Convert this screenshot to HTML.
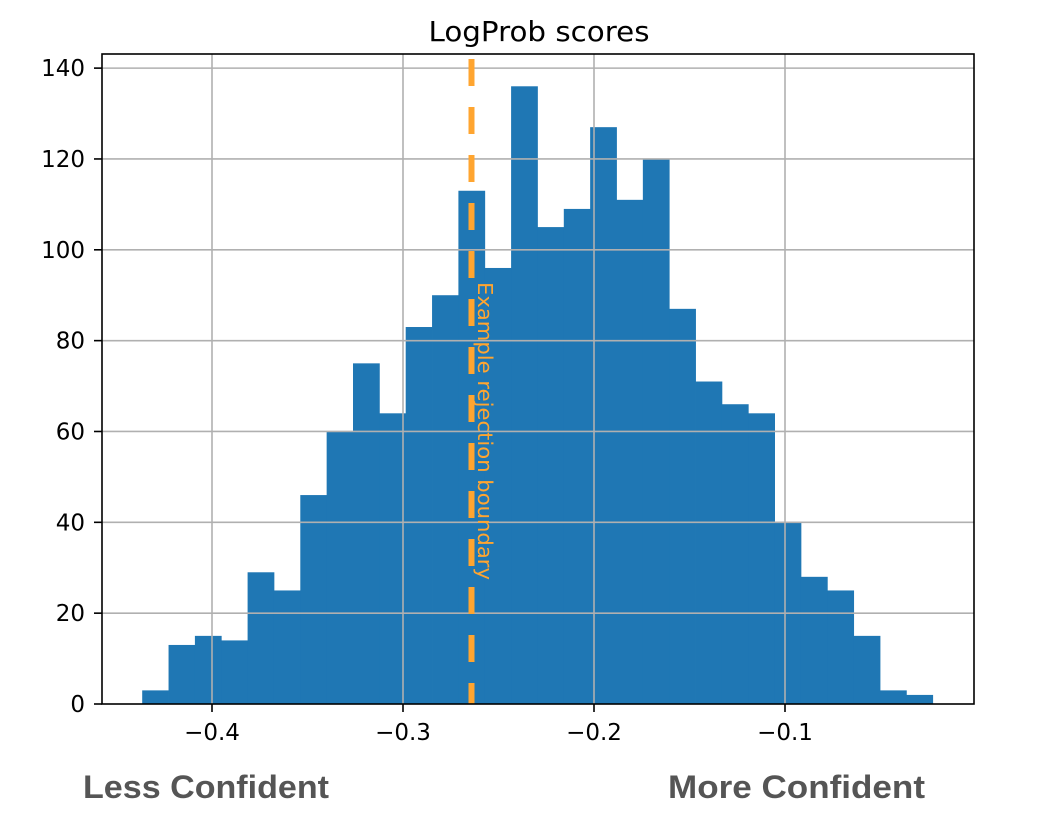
<!DOCTYPE html>
<html><head><meta charset="utf-8"><style>
html,body{margin:0;padding:0;background:#fff;}
svg{display:block;font-family:"DejaVu Sans","Liberation Sans",sans-serif;}
</style></head><body>
<svg width="1055" height="838" viewBox="0 0 1055 838">
<rect width="1055" height="838" fill="#fff"/>
<g id="bars" fill="#1f77b4"></g>
<g id="grid" stroke="#b0b0b0" stroke-width="1.6"></g>
<line x1="471.5" y1="59" x2="471.5" y2="704" stroke="#ffa530" stroke-width="6" stroke-dasharray="27,21"/>
<text x="0" y="0" transform="translate(478,282) rotate(90)" fill="#ffa530" font-size="20.5" textLength="298" lengthAdjust="spacingAndGlyphs">Example rejection boundary</text>
<rect x="102" y="54" width="872" height="650" fill="none" stroke="#000" stroke-width="1.6"/>
<g id="ticks" stroke="#000" stroke-width="1.6"></g>
<g id="labels" font-size="23" fill="#000"></g>
<text x="539" y="41" text-anchor="middle" font-size="28" textLength="221" lengthAdjust="spacingAndGlyphs">LogProb scores</text>
<text x="83" y="798" font-size="32" font-weight="bold" fill="#555" font-family="Liberation Sans, sans-serif" textLength="246" lengthAdjust="spacingAndGlyphs">Less Confident</text>
<text x="668" y="798" font-size="32" font-weight="bold" fill="#555" font-family="Liberation Sans, sans-serif" textLength="257" lengthAdjust="spacingAndGlyphs">More Confident</text>
</svg>
<script>
var h=[3,13,15,14,29,25,46,60,75,64,83,90,113,96,136,105,109,127,111,120,87,71,66,64,40,28,25,15,3,2];
var ns="http://www.w3.org/2000/svg";function el(g,t,a){var e=document.createElementNS(ns,t);for(var k in a)e.setAttribute(k,a[k]);document.getElementById(g).appendChild(e);return e;}
var x0=142.2,w=26.35,y0=704,s=4.542;
h.forEach(function(v,i){el("bars","rect",{x:x0+i*w,y:y0-v*s,width:w+0.4,height:v*s});});
for(var v=0;v<=140;v+=20){var y=y0-v*s;if(v>0)el("grid","line",{x1:102,x2:974,y1:y,y2:y});el("ticks","line",{x1:94,x2:102,y1:y,y2:y});var t=el("labels","text",{x:85,y:y+8,"text-anchor":"end"});t.textContent=v;}
[-0.4,-0.3,-0.2,-0.1].forEach(function(v,i){var x=212+i*191;el("grid","line",{x1:x,x2:x,y1:54,y2:704});el("ticks","line",{x1:x,x2:x,y1:704,y2:712});var t=el("labels","text",{x:x,y:740,"text-anchor":"middle"});t.textContent="\u2212"+(-v).toFixed(1);});
</script>
</body></html>
